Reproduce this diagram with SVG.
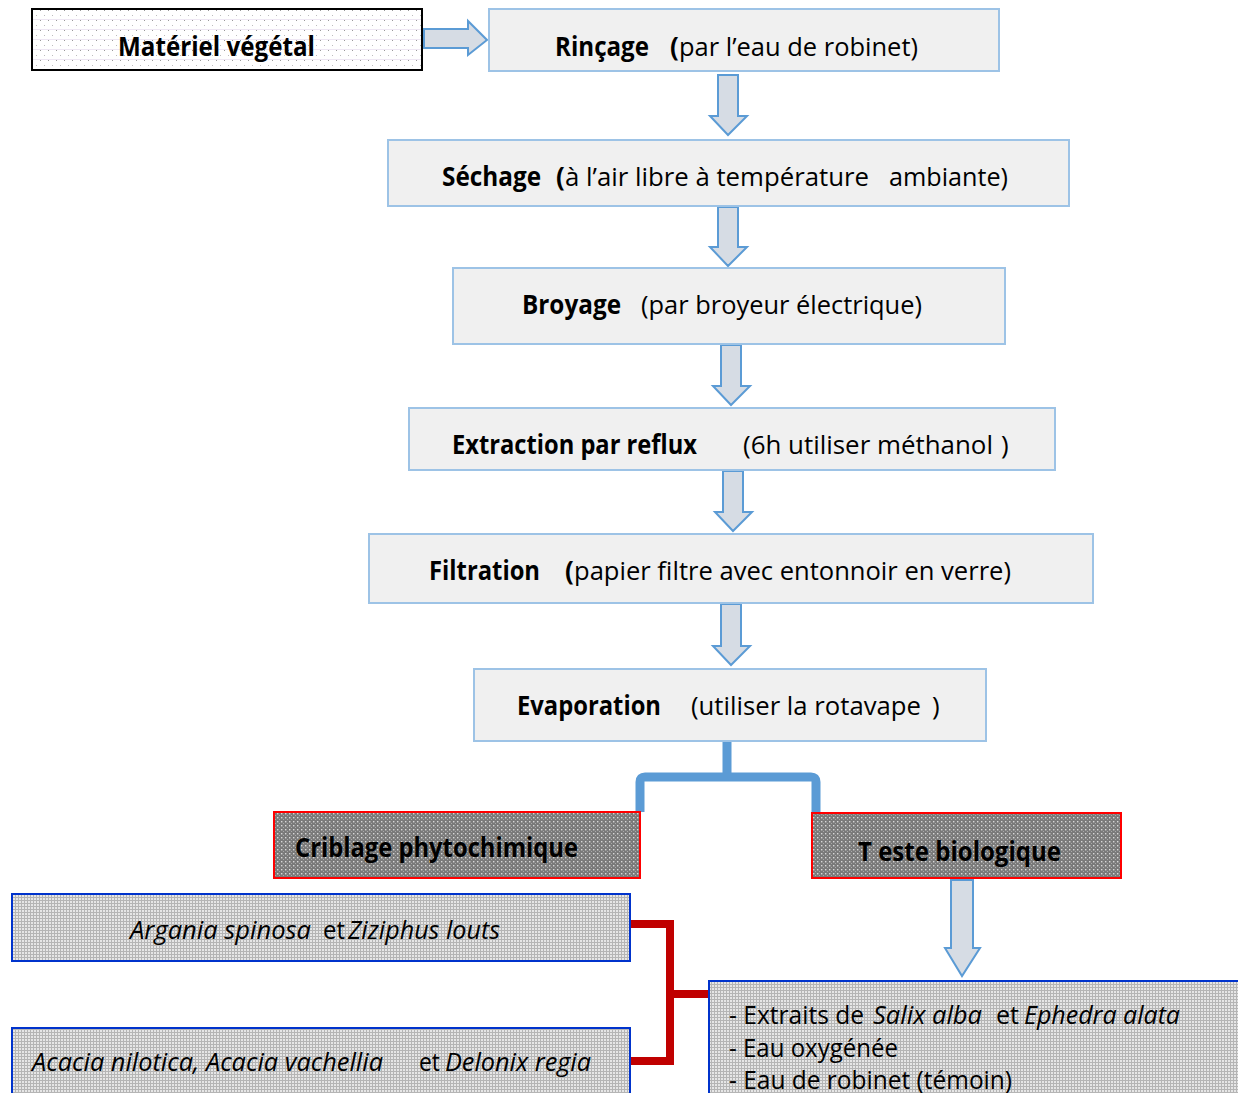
<svg xmlns="http://www.w3.org/2000/svg" width="1238" height="1093" viewBox="0 0 1238 1093">
<defs>
<style>
text{font-family:"Open Sans","Noto Sans","Liberation Sans",sans-serif;font-size:26px;fill:#000}
.b{font-weight:bold}
.i{font-style:italic}
.s{font-size:25px}
.step{fill:#f0f0f0;stroke:#9dc3e6;stroke-width:2}
.arr{fill:#d6dce4;stroke:#5b9bd5;stroke-width:2;stroke-linejoin:miter}
.red{fill:url(#dark);stroke:#ff0000;stroke-width:2}
.blue{fill:url(#grid);stroke:#0033cc;stroke-width:2}
</style>
<pattern id="dots" width="8" height="10" patternUnits="userSpaceOnUse">
<rect width="8" height="10" fill="#fff"/>
<rect x="0" y="0" width="1" height="1" fill="#999"/>
<rect x="4" y="5" width="1" height="1" fill="#bbb"/>
<rect x="0" y="9" width="8" height="0.6" fill="#e4d8ec"/>
</pattern>
<pattern id="dark" width="4" height="4" patternUnits="userSpaceOnUse">
<rect width="4" height="4" fill="#7a7a7a"/>
<rect x="1" y="1" width="1.4" height="1.4" fill="#d8d8d8"/>
<rect x="3" y="3" width="1" height="1" fill="#aaa"/>
</pattern>
<pattern id="grid" width="3" height="3" patternUnits="userSpaceOnUse">
<rect width="3" height="3" fill="#e6e6e6"/>
<rect x="0" y="0" width="3" height="1" fill="#b5b5b5"/>
<rect x="0" y="0" width="1" height="3" fill="#b5b5b5"/>
</pattern>
</defs>
<rect width="1238" height="1093" fill="#fff"/>

<g id="connectors">
<polygon class="arr" points="424,29 468,29 468,21 487,40 468,55 468,48 424,48"/>
<polygon class="arr" points="718,75 738,75 738,116 747,116 728,135 710,116 718,116"/>
<polygon class="arr" points="718,207 738,207 738,247 747,247 728,266 710,247 718,247"/>
<polygon class="arr" points="721,345 741,345 741,386 750,386 731,405 713,386 721,386"/>
<polygon class="arr" points="723,471 743,471 743,512 752,512 733,531 715,512 723,512"/>
<polygon class="arr" points="721,604 741,604 741,646 750,646 731,665 713,646 721,646"/>
<polygon class="arr" points="951,880 973,880 973,948 980,948 962,976 945,948 951,948"/>
<path d="M727,741 V777 M640,812 V782 Q640,777 645,777 H811 Q816,777 816,782 V812" fill="none" stroke="#5b9bd5" stroke-width="9"/>
<path d="M630,924 H670 V1061 H630 M670,994 H710" fill="none" stroke="#c00000" stroke-width="8"/>
</g>

<g id="node-materiel">
<rect x="32" y="9" width="390" height="61" fill="url(#dots)" stroke="#000" stroke-width="2"/>
<text class="b" x="118" y="56" textLength="197" lengthAdjust="spacingAndGlyphs">Matériel végétal</text>
</g>

<g id="node-rincage">
<rect class="step" x="489" y="9" width="510" height="62"/>
<text class="b" x="555" y="56" textLength="94" lengthAdjust="spacingAndGlyphs">Rinçage</text>
<text class="b" x="670" y="56">(</text>
<text x="679" y="56" textLength="239" lengthAdjust="spacingAndGlyphs">par l’eau de robinet)</text>
</g>

<g id="node-sechage">
<rect class="step" x="388" y="140" width="681" height="66"/>
<text class="b" x="442" y="186" textLength="99" lengthAdjust="spacingAndGlyphs">Séchage</text>
<text class="b" x="556" y="186">(</text>
<text x="565" y="186" textLength="304" lengthAdjust="spacingAndGlyphs">à l’air libre à température</text>
<text x="889" y="186" textLength="119" lengthAdjust="spacingAndGlyphs">ambiante)</text>
</g>

<g id="node-broyage">
<rect class="step" x="453" y="268" width="552" height="76"/>
<text class="b" x="522" y="314" textLength="99" lengthAdjust="spacingAndGlyphs">Broyage</text>
<text x="641" y="314" textLength="281" lengthAdjust="spacingAndGlyphs">(par broyeur électrique)</text>
</g>

<g id="node-extraction">
<rect class="step" x="409" y="408" width="646" height="62"/>
<text class="b" x="452" y="454" textLength="245" lengthAdjust="spacingAndGlyphs">Extraction par reflux</text>
<text x="743" y="454" textLength="250" lengthAdjust="spacingAndGlyphs">(6h utiliser méthanol</text>
<text x="1001" y="454">)</text>
</g>

<g id="node-filtration">
<rect class="step" x="369" y="534" width="724" height="69"/>
<text class="b" x="429" y="580" textLength="111" lengthAdjust="spacingAndGlyphs">Filtration</text>
<text class="b" x="565" y="580">(</text>
<text x="574" y="580" textLength="437" lengthAdjust="spacingAndGlyphs">papier filtre avec entonnoir en verre)</text>
</g>

<g id="node-evaporation">
<rect class="step" x="474" y="669" width="512" height="72"/>
<text class="b" x="517" y="715" textLength="144" lengthAdjust="spacingAndGlyphs">Evaporation</text>
<text x="691" y="715" textLength="230" lengthAdjust="spacingAndGlyphs">(utiliser la rotavape</text>
<text x="932" y="715">)</text>
</g>

<g id="node-criblage">
<rect class="red" x="274" y="812" width="366" height="66"/>
<text class="b" x="295" y="857" textLength="283" lengthAdjust="spacingAndGlyphs">Criblage phytochimique</text>
</g>

<g id="node-teste">
<rect class="red" x="812" y="813" width="309" height="65"/>
<text class="b" x="858" y="861" textLength="203" lengthAdjust="spacingAndGlyphs">T este biologique</text>
</g>

<g id="node-argania">
<rect class="blue" x="12" y="894" width="618" height="67"/>
<text class="i" x="130" y="939" textLength="181" lengthAdjust="spacingAndGlyphs">Argania spinosa</text>
<text x="323" y="939" textLength="22" lengthAdjust="spacingAndGlyphs">et</text>
<text class="i" x="348" y="939" textLength="152" lengthAdjust="spacingAndGlyphs">Ziziphus louts</text>
</g>

<g id="node-acacia">
<rect class="blue" x="12" y="1028" width="618" height="75"/>
<text class="i" x="32" y="1071" textLength="351" lengthAdjust="spacingAndGlyphs">Acacia nilotica, Acacia vachellia</text>
<text x="419" y="1071" textLength="21" lengthAdjust="spacingAndGlyphs">et</text>
<text class="i" x="445" y="1071" textLength="146" lengthAdjust="spacingAndGlyphs">Delonix regia</text>
</g>

<g id="node-extraits">
<rect class="blue" x="709" y="981" width="538" height="122"/>
<text class="s" x="729" y="1024" textLength="135" lengthAdjust="spacingAndGlyphs">- Extraits de</text>
<text class="s i" x="873" y="1024" textLength="109" lengthAdjust="spacingAndGlyphs">Salix alba</text>
<text class="s" x="996" y="1024" textLength="23" lengthAdjust="spacingAndGlyphs">et</text>
<text class="s i" x="1024" y="1024" textLength="156" lengthAdjust="spacingAndGlyphs">Ephedra alata</text>
<text class="s" x="729" y="1057" textLength="169" lengthAdjust="spacingAndGlyphs">- Eau oxygénée</text>
<text class="s" x="729" y="1089" textLength="283" lengthAdjust="spacingAndGlyphs">- Eau de robinet (témoin)</text>
</g>
</svg>
